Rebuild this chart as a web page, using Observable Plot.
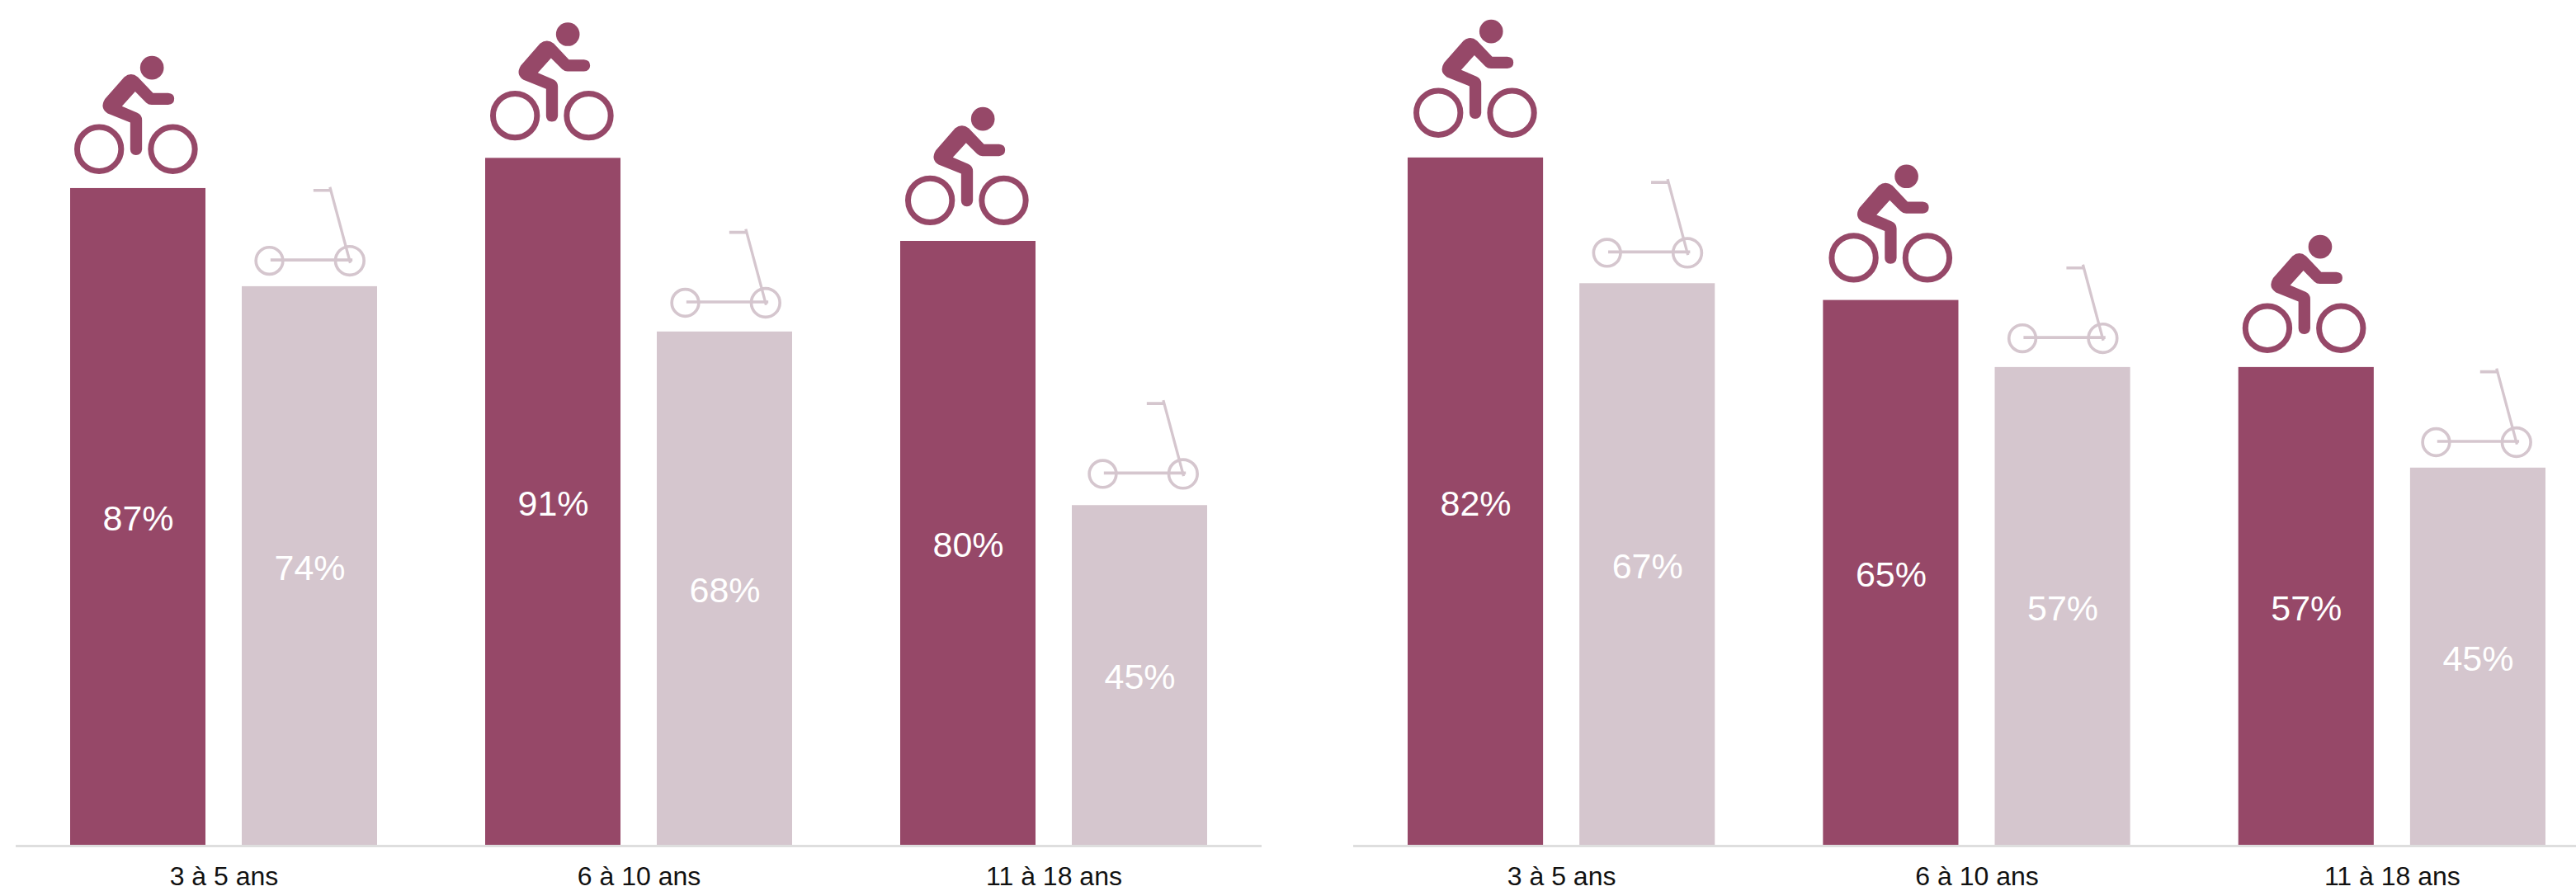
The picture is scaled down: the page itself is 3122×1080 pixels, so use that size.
<!DOCTYPE html>
<html lang="fr">
<head>
<meta charset="utf-8">
<script src="https://cdn.jsdelivr.net/npm/d3@7"></script>
<script src="https://cdn.jsdelivr.net/npm/@observablehq/plot@0.6"></script>
<style>
html,body{margin:0;padding:0;background:#fff;width:3122px;height:1080px;overflow:hidden}
#chart{position:relative;width:3122px;height:1080px}
#chart svg{position:absolute;top:0;background:transparent}
</style>
</head>
<body>
<div id="chart"></div>
<script>
const ages = ["3 à 5 ans", "6 à 10 ans", "11 à 18 ans"];
const modes = ["vélo", "trottinette"];
const leftBike = [87, 91, 80];
const leftScooter = [74, 68, 45];
const rightBike = [82, 65, 57];
const rightScooter = [67, 57, 45];

const bikeColor = "#964868";
const scooterColor = "#d5c6ce";
const axisColor = "#dedede";
const fontFamily = "'Liberation Sans', Arial, sans-serif";

const svgUri = s => "data:image/svg+xml;charset=utf-8," + encodeURIComponent(s);

const bikeIcon = svgUri(`<svg xmlns="http://www.w3.org/2000/svg" width="200" height="180" viewBox="0 0 600 540">
<g fill="none" stroke="${bikeColor}" stroke-width="21">
<circle cx="149" cy="394" r="80"/><circle cx="417" cy="394" r="80"/></g>
<circle cx="341" cy="98" r="43" fill="${bikeColor}"/>
<path fill="${bikeColor}" d="M240 132 Q265 112 290 132 L345 190 L400 190 Q422 192 422 211 Q422 231 400 233 L340 233 Q328 233 320 225 L280 185 L232 238 L288 262 Q305 270 305 288 L305 395 Q303 415 283 416 Q263 415 262 395 L262 297 L180 264 Q150 245 170 212 Z"/>
</svg>`);

const scooterIcon = svgUri(`<svg xmlns="http://www.w3.org/2000/svg" width="180" height="160" viewBox="0 0 540 480">
<g fill="none" stroke="${scooterColor}">
<circle cx="108" cy="344" r="49" stroke-width="11"/>
<circle cx="400" cy="344" r="52" stroke-width="11"/>
<path d="M112 341 H410" stroke-width="11"/>
<path d="M402 352 L328 76" stroke-width="10"/>
<path d="M268 88 H330" stroke-width="11"/>
</g></svg>`);

function rows(bike, scooter) {
  return ages.flatMap((age, i) => [
    {age, mode: modes[0], value: bike[i]},
    {age, mode: modes[1], value: scooter[i]}
  ]);
}

function icons(data, mode, src, w, h, dx, dy, shifts) {
  return data.filter(d => d.mode === mode).map((d, i) =>
    Plot.image([d], {
      fx: "age", x: "mode", y: "value", src: () => src,
      width: w, height: h, dx: dx + shifts[i][0], dy: dy + shifts[i][1]
    }));
}

function panel({bike, scooter, left, width, marginLeft, marginRight, yRange, bikeShift, scooterShift}) {
  const data = rows(bike, scooter);
  const svg = Plot.plot({
    width,
    height: 1080,
    marginTop: 0,
    marginBottom: 55,
    marginLeft,
    marginRight,
    style: {background: "transparent", fontFamily},
    fx: {domain: ages, paddingInner: 131 / 503, paddingOuter: 0, label: null, round: false},
    x: {domain: modes, paddingInner: 44 / 208, paddingOuter: 0, axis: null, round: false},
    y: {domain: [0, 100], range: yRange, axis: null},
    color: {domain: modes, range: [bikeColor, scooterColor]},
    marks: [
      Plot.barY(data, {fx: "age", x: "mode", y: "value", fill: "mode"}),
      Plot.ruleY([0], {stroke: axisColor, strokeWidth: 3, dy: 1, insetLeft: -66, insetRight: -66}),
      Plot.text(data, {
        fx: "age", x: "mode", y: d => d.value / 2,
        text: d => `${d.value}%`, fill: "#fff", fontSize: 43, dy: 3
      }),
      icons(data, modes[0], bikeIcon, 200, 180, 3, -89, bikeShift),
      icons(data, modes[1], scooterIcon, 180, 160, 5, -68, scooterShift),
      Plot.axisFx({
        anchor: "bottom", tickSize: 0, tickPadding: 25, fontSize: 32,
        fill: "#111", label: null
      })
    ]
  });
  svg.style.left = left + "px";
  document.getElementById("chart").append(svg);
}

panel({bike: leftBike, scooter: leftScooter, left: 0, width: 1600,
       marginLeft: 85, marginRight: 137, yRange: [1024, 109],
       bikeShift: [[0, 0], [1, -4], [1, -2]],
       scooterShift: [[0, 2], [1, -2], [4, -5]]});
panel({bike: rightBike, scooter: rightScooter, left: 1600, width: 1522,
       marginLeft: 106, marginRight: 37, yRange: [1024, 8],
       bikeShift: [[2, -7], [2, -4], [0, 0]],
       scooterShift: [[0, -4], [0, -2], [-2, 2]]});
</script>
</body>
</html>
